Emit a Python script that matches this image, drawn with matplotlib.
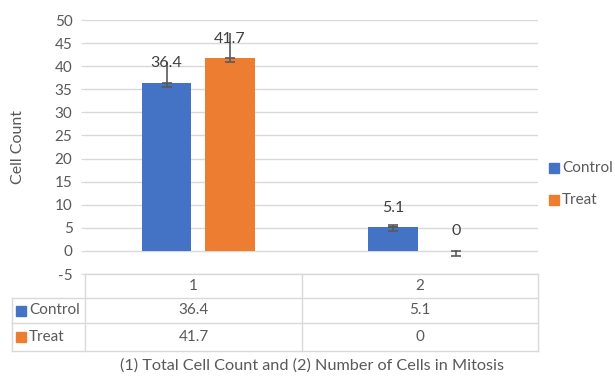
import matplotlib
matplotlib.use("Agg")
import matplotlib.pyplot as plt
from matplotlib.lines import Line2D
from matplotlib.patches import Rectangle

categories = ["1", "2"]
series = ["Control", "Treat"]
control = [36.4, 5.1]
treat = [41.7, 0.0]
control_err_lo = [0.9, 0.7]
control_err_hi = [4.6, 0.5]
treat_err_lo = [0.9, 1.0]
treat_err_hi = [5.5, 0.3]
yticks = list(range(-5, 55, 5))
xlabel = "(1) Total Cell Count and (2) Number of Cells in Mitosis"
ylabel = "Cell Count"

colors = ["#4472C4", "#ED7D31"]
txt = "#595959"
grid = "#D9D9D9"
FONT = "Lato"
plt.rcParams["font.family"] = [FONT, "DejaVu Sans"]

W, H = 615, 376
fig = plt.figure(figsize=(W / 100, H / 100), dpi=100)

def fx(x):
    return x / W

def fy(y):
    return 1 - y / H

L, R, T, B = 85, 538, 20, 274
ax = fig.add_axes([fx(L), fy(B), fx(R) - fx(L), fy(T) - fy(B)])
ax.set_xlim(-0.5, 1.5)
ax.set_ylim(-5, 50)
ax.set_yticks(yticks)
ax.set_yticklabels([str(t) for t in yticks], color=txt, fontsize=11)
ax.tick_params(axis="y", length=3, color=grid, pad=6)
ax.tick_params(axis="x", length=0, labelbottom=False)
ax.set_xticks([])
for s in ax.spines.values():
    s.set_visible(False)
ax.yaxis.grid(True, color=grid, linewidth=1)
ax.set_axisbelow(True)

xs = [0, 1]
off = 0.14
w = 0.22
data = [control, treat]
err_lo = [control_err_lo, treat_err_lo]
err_hi = [control_err_hi, treat_err_hi]
for si, (vals, col) in enumerate(zip(data, colors)):
    pos = [x + (-off if si == 0 else off) for x in xs]
    ax.bar(pos, vals, width=w, color=col, zorder=2)
    ax.errorbar(pos, vals, yerr=[err_lo[si], [0] * len(vals)], fmt="none",
                ecolor="#595959", elinewidth=1.2, capsize=3.5, capthick=1.2, zorder=3)
    for i, (p, v) in enumerate(zip(pos, vals)):
        capped = 0.4 < err_hi[si][i] < 2
        ax.errorbar([p], [v], yerr=[[0], [err_hi[si][i]]], fmt="none",
                    ecolor="#595959", elinewidth=1.2,
                    capsize=3.5 if capped else 0, capthick=1.2, zorder=3)
        ax.annotate(f"{v:g}", (p, v), xytext=(0, 14), textcoords="offset points",
                    ha="center", va="center", fontsize=11.5, color="#404040", zorder=4)

ax.set_ylabel(ylabel, color=txt, fontsize=11.5)
ax.yaxis.set_label_coords((25 - L) / (R - L), 0.5)

# legend on the right
ly = [168, 200]
for name, col, y in zip(series, colors, ly):
    fig.patches.append(Rectangle((fx(549), fy(y + 5)), fx(10), 10 / H,
                                 transform=fig.transFigure, color=col))
    fig.text(fx(562), fy(y), name, color=txt, fontsize=11, va="center", ha="left")

# data table
tl = dict(color=grid, linewidth=1, transform=fig.transFigure)
cols = [12, 85, 302, 538]
rows = [274, 298, 323, 351]
fig.add_artist(Line2D([fx(85), fx(538)], [fy(274), fy(274)], **tl))
for r in rows[1:]:
    fig.add_artist(Line2D([fx(12), fx(538)], [fy(r), fy(r)], **tl))
for c in cols[1:]:
    fig.add_artist(Line2D([fx(c), fx(c)], [fy(274), fy(351)], **tl))
fig.add_artist(Line2D([fx(12), fx(12)], [fy(298), fy(351)], **tl))

centers_x = [(cols[1] + cols[2]) / 2, (cols[2] + cols[3]) / 2]
for cx, cat in zip(centers_x, categories):
    fig.text(fx(cx), fy((rows[0] + rows[1]) / 2), cat, ha="center", va="center",
             color=txt, fontsize=11)
for ri, (name, col, vals) in enumerate(zip(series, colors, data)):
    yc = (rows[ri + 1] + rows[ri + 2]) / 2
    fig.patches.append(Rectangle((fx(16), fy(yc + 5)), fx(10), 10 / H,
                                 transform=fig.transFigure, color=col))
    fig.text(fx(29), fy(yc), name, ha="left", va="center", color=txt, fontsize=11)
    for cx, v in zip(centers_x, vals):
        fig.text(fx(cx), fy(yc), f"{v:g}", ha="center", va="center", color=txt, fontsize=11)

fig.text(fx(312), fy(366), xlabel, ha="center", va="center", color=txt, fontsize=11.7)

fig.savefig("out.png", dpi=100)
